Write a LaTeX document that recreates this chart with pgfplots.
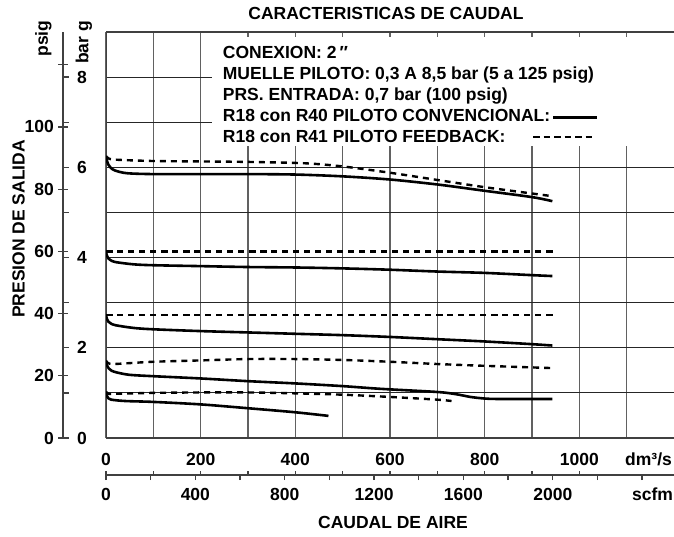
\documentclass[border=0pt]{standalone}
\usepackage{fontspec}
\setmainfont{Liberation Sans}
\usepackage{pgfplots}
\pgfplotsset{compat=1.18}
\definecolor{gridgray}{gray}{0.38}
\definecolor{framegray}{gray}{0.25}
\pgfplotsset{
  solidc/.style={black, line width=2.6pt, no markers, smooth, tension=0.5},
  dashc/.style={black, line width=2.4pt, no markers, smooth, tension=0.5, dash pattern=on 6pt off 5pt},
  scale/.style={scale only axis, height=406pt, width=100pt, xmin=0, xmax=1,
    hide x axis, axis y line*=left, axis line style={-, framegray, line width=1.3pt},
    tick style={framegray, line width=1.3pt},
    yticklabel style={inner sep=0pt}},
}
\begin{document}
\fontsize{17.5}{20}\selectfont\bfseries
\begin{tikzpicture}
\useasboundingbox (0,0) rectangle (674pt,536pt);

% psig scale
\begin{axis}[scale, at={(63pt,98pt)}, anchor=south west,
  ymin=0, ymax=130.534, ytick={0,20,...,120}, yticklabels={0,20,40,60,80,100,},
  tick align=center, major tick length=10pt,
  yticklabel style={anchor=east, xshift=-4pt}]
\end{axis}
% bar scale
\begin{axis}[scale, at={(63pt,98pt)}, anchor=south west,
  ymin=0, ymax=9, ytick={0,...,8}, yticklabels={0,,2,,4,,6,,8},
  tick align=inside, major tick length=6pt,
  yticklabel style={anchor=west, xshift=14pt}]
\end{axis}

% dm3/s ticks on the lower scale line
\begin{axis}[at={(106pt,61pt)}, anchor=south west, scale only axis, width=568pt, height=10pt,
  xmin=0, xmax=1200, ymin=0, ymax=1, hide y axis, axis x line*=bottom,
  axis line style={-, framegray, line width=1.3pt}, tick style={framegray, line width=1.3pt},
  xtick={0,100,...,1000}, xticklabels={}, tick align=inside, major tick length=4pt]
\end{axis}
% scfm scale
\begin{axis}[at={(106pt,61pt)}, anchor=south west, scale only axis, width=568pt, height=10pt,
  xmin=0, xmax=2542.66, ymin=0, ymax=1, hide y axis, axis x line*=bottom,
  axis line style={-, framegray, line width=1.3pt}, tick style={framegray, line width=1.3pt},
  xtick={0,200,...,2400}, xticklabels={0,,400,,800,,1200,,1600,,2000,},
  tick align=outside, major tick length=5pt,
  xticklabel style={anchor=base, inner sep=0pt, yshift=-20pt}]
\end{axis}

% main chart
\begin{axis}[name=main, at={(106pt,98pt)}, anchor=south west,
  scale only axis, width=568pt, height=406pt,
  xmin=0, xmax=1200, ymin=0, ymax=9,
  axis line style={draw=none},
  xtick={0,100,...,1100}, xticklabels={0,,200,,400,,600,,800,,1000,},
  ytick={1,...,8}, yticklabels={},
  major tick length=0pt,
  grid=major,
  x grid style={gridgray, line width=1.1pt},
  y grid style={black!85, line width=0.9pt},
  xticklabel style={anchor=base, inner sep=0pt, yshift=-27pt}]
\fill[white] (axis cs:224,6.462) rectangle (axis cs:1200,8.889);
\draw[framegray, line width=1.6pt] (rel axis cs:0,1) -- (rel axis cs:0,0) -- (rel axis cs:1,0);
\draw[framegray, line width=1.6pt] (rel axis cs:0,1) -- (rel axis cs:1,1);

% 90 psig
\addplot[solidc] coordinates {(0,6.25) (2,6.15) (5,6.06) (10,5.99) (19,5.93) (44,5.87) (100,5.85) (200,5.85) (300,5.85) (400,5.84) (500,5.80) (600,5.73) (700,5.62) (800,5.48) (900,5.34) (943,5.25)};
\addplot[dashc] coordinates {(0,6.25) (5,6.2) (20,6.17) (100,6.14) (200,6.13) (300,6.12) (420,6.09) (500,6.02) (600,5.88) (700,5.72) (800,5.56) (900,5.42) (943,5.36)};
% 60 psig
\addplot[solidc] coordinates {(0,4.13) (2,4.04) (5,3.98) (10,3.94) (20,3.90) (58,3.85) (100,3.83) (200,3.81) (300,3.79) (400,3.78) (500,3.76) (600,3.73) (700,3.69) (800,3.66) (900,3.61) (943,3.59)};
\addplot[dashc] coordinates {(0,4.13) (400,4.13) (943,4.13)};
% 40 psig
\addplot[solidc] coordinates {(0,2.73) (2,2.64) (5,2.58) (10,2.54) (20,2.50) (58,2.44) (100,2.41) (200,2.37) (300,2.34) (400,2.31) (500,2.28) (600,2.24) (700,2.19) (800,2.14) (900,2.08) (943,2.05)};
\addplot[dashc] coordinates {(0,2.73) (400,2.73) (943,2.73)};
% 25 psig
\addplot[solidc] coordinates {(0,1.70) (2,1.61) (6,1.54) (12,1.49) (24,1.45) (50,1.40) (100,1.37) (200,1.32) (300,1.26) (400,1.21) (500,1.15) (580,1.09) (700,1.02) (740,0.97) (770,0.91) (800,0.875) (830,0.865) (943,0.865)};
\addplot[dashc] coordinates {(0,1.72) (4,1.66) (16,1.64) (50,1.66) (100,1.69) (200,1.72) (300,1.75) (400,1.75) (500,1.73) (600,1.69) (700,1.64) (800,1.60) (943,1.55)};
% 15 psig
\addplot[solidc] coordinates {(0,1.0) (2,0.93) (5,0.88) (11,0.85) (40,0.82) (100,0.80) (200,0.745) (300,0.66) (400,0.57) (470,0.49)};
\addplot[dashc] coordinates {(0,1.03) (5,0.98) (20,0.98) (100,1.0) (200,1.01) (300,1.01) (400,0.99) (500,0.96) (600,0.91) (700,0.85) (730,0.82)};
\end{axis}

% titles and scale names
\node[anchor=base] at (386pt,516pt) {CARACTERISTICAS DE CAUDAL};
\node[anchor=base] at (393pt,7.7pt) {CAUDAL DE AIRE};
\node[rotate=90] at (18.5pt,307pt) {PRESION DE SALIDA};
\node[rotate=90] at (43.5pt,497.5pt) {psig};
\node[rotate=90] at (84pt,493.5pt) {bar g};
\node[anchor=base] at (648.5pt,71pt) {dm³/s};
\node[anchor=base] at (652.5pt,36pt) {scfm};

% legend block
\node[anchor=base west, inner sep=0pt] at (222.7pt,477pt) {CONEXION: 2\,″};
\node[anchor=base west, inner sep=0pt] at (222.7pt,456pt) {MUELLE PILOTO: 0,3 A 8,5 bar (5 a 125 psig)};
\node[anchor=base west, inner sep=0pt] at (222.7pt,435pt) {PRS. ENTRADA: 0,7 bar (100 psig)};
\node[anchor=base west, inner sep=0pt] at (222.7pt,414pt) {R18 con R40 PILOTO CONVENCIONAL:};
\node[anchor=base west, inner sep=0pt] at (222.7pt,393pt) {R18 con R41 PILOTO FEEDBACK:};
\draw[black, line width=2.5pt] (553pt,418.7pt) -- (597pt,418.7pt);
\draw[black, line width=2.3pt, dash pattern=on 6.5pt off 4pt] (533pt,398.7pt) -- (593pt,398.7pt);
\end{tikzpicture}
\end{document}
